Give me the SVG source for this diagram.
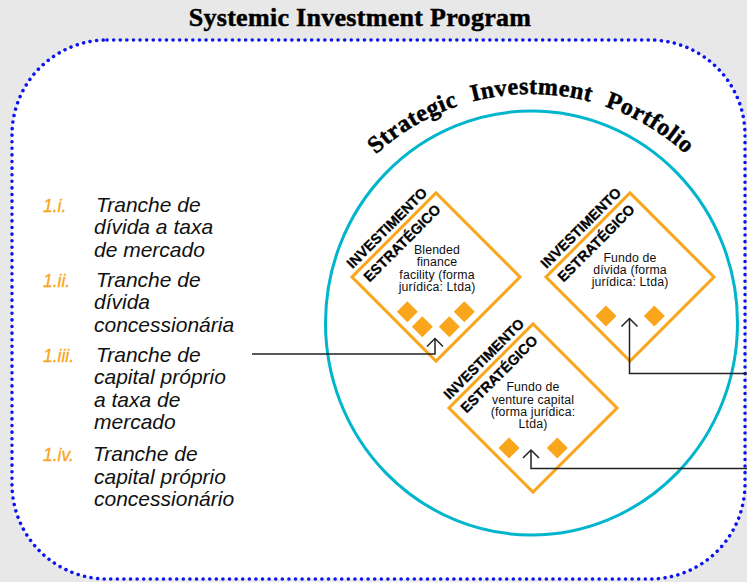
<svg xmlns="http://www.w3.org/2000/svg" xmlns:xlink="http://www.w3.org/1999/xlink" width="747" height="582" viewBox="0 0 747 582">
<style>
.title{font-family:"Liberation Serif","Times New Roman",serif;font-weight:bold;fill:#000;stroke:#000;stroke-width:0.5}
.item{font-family:"Liberation Sans",Arial,sans-serif;font-style:italic;font-size:21px;fill:#111}
.num{font-family:"Liberation Sans",Arial,sans-serif;font-style:italic;font-size:17.5px;fill:#f9a61c;stroke:#f9a61c;stroke-width:0.3}
.frame{fill:#fff;stroke:#f9a61c;stroke-width:3}
.chip{fill:#f9a61c}
.tag{font-family:"Liberation Sans",Arial,sans-serif;font-weight:bold;font-size:14.3px;text-anchor:middle;fill:#000;stroke:#000;stroke-width:0.3}
.body{font-family:"Liberation Sans",Arial,sans-serif;font-size:12.3px;letter-spacing:0.15px;text-anchor:middle;fill:#111}
.conn{fill:none;stroke:#222;stroke-width:1.5}
</style>
<defs>
<marker id="chev" viewBox="-10 -10 20 20" refX="0" refY="0" markerWidth="20" markerHeight="20" markerUnits="userSpaceOnUse" orient="auto">
<path d="M-8,-8 L0,0 L-8,8" fill="none" stroke="#222" stroke-width="1.5"/>
</marker>
<path id="chipShape" d="M0,-10.5 L10.5,0 L0,10.5 L-10.5,0Z"/>
<path id="arc" d="M332.7,208.5 A229,229 0 0 1 729.3,208.5"/>
</defs>
<rect x="0" y="0" width="747" height="582" fill="#e8e8e8"/>
<text class="title" x="360" y="26" font-size="26" letter-spacing="0.3" text-anchor="middle">Systemic Investment Program</text>
<rect x="12" y="40" width="733" height="539" rx="95" ry="95" fill="#fff" stroke="#0a14f0" stroke-width="3.5" stroke-linecap="round" stroke-dasharray="0.1 6.5"/>
<ellipse cx="531.5" cy="323" rx="206" ry="212" fill="none" stroke="#00b5cc" stroke-width="3"/>
<text class="title" font-size="24" letter-spacing="0.5" word-spacing="8"><textPath xlink:href="#arc" startOffset="50%" text-anchor="middle">Strategic Investment Portfolio</textPath></text>

<g id="list">
<text class="num" x="43" y="212.3">1.i.</text>
<text class="item" x="96" y="212.3">Tranche de</text>
<text class="item" x="94" y="234.3">dívida a taxa</text>
<text class="item" x="94" y="256.5">de mercado</text>
<text class="num" x="43" y="286.7">1.ii.</text>
<text class="item" x="96" y="286.7">Tranche de</text>
<text class="item" x="94" y="309">dívida</text>
<text class="item" x="94" y="331.5">concessionária</text>
<text class="num" x="43" y="362.3">1.iii.</text>
<text class="item" x="96" y="362.3">Tranche de</text>
<text class="item" x="94" y="384.3">capital próprio</text>
<text class="item" x="94" y="406.7">a taxa de</text>
<text class="item" x="94" y="429.2">mercado</text>
<text class="num" x="43" y="460.7">1.iv.</text>
<text class="item" x="93" y="460.7">Tranche de</text>
<text class="item" x="94" y="483.5">capital próprio</text>
<text class="item" x="94" y="505.5">concessionário</text>
</g>

<g id="node-blended" transform="translate(436,277)">
<g transform="rotate(-45)">
<rect class="frame" x="-59.4" y="-59.4" width="118.8" height="118.8"/>
<text class="tag" x="0" y="-64.5">INVESTIMENTO</text>
<text class="tag" x="0" y="-43">ESTRATÉGICO</text>
</g>
<text class="body" x="1" y="-23">Blended</text>
<text class="body" x="1" y="-10.7">finance</text>
<text class="body" x="1" y="1.6">facility (forma</text>
<text class="body" x="1" y="13.9">jurídica: Ltda)</text>
<use xlink:href="#chipShape" class="chip" x="-28.7" y="34.7"/>
<use xlink:href="#chipShape" class="chip" x="-13.7" y="49.7"/>
<use xlink:href="#chipShape" class="chip" x="13.3" y="49.7"/>
<use xlink:href="#chipShape" class="chip" x="28.3" y="34.7"/>
</g>

<g id="node-divida" transform="translate(630,277)">
<g transform="rotate(-45)">
<rect class="frame" x="-59.4" y="-59.4" width="118.8" height="118.8"/>
<text class="tag" x="0" y="-64.5">INVESTIMENTO</text>
<text class="tag" x="0" y="-43">ESTRATÉGICO</text>
</g>
<text class="body" x="0" y="-15.5">Fundo de</text>
<text class="body" x="0" y="-3.5">dívida (forma</text>
<text class="body" x="0" y="8.5">jurídica: Ltda)</text>
<use xlink:href="#chipShape" class="chip" x="-24" y="39"/>
<use xlink:href="#chipShape" class="chip" x="24.3" y="39"/>
</g>

<g id="node-venture" transform="translate(533,408)">
<g transform="rotate(-45)">
<rect class="frame" x="-59.4" y="-59.4" width="118.8" height="118.8"/>
<text class="tag" x="0" y="-64.5">INVESTIMENTO</text>
<text class="tag" x="0" y="-43">ESTRATÉGICO</text>
</g>
<text class="body" x="0" y="-16.8">Fundo de</text>
<text class="body" x="0" y="-4.5">venture capital</text>
<text class="body" x="0" y="7.8">(forma jurídica:</text>
<text class="body" x="0" y="20.1">Ltda)</text>
<use xlink:href="#chipShape" class="chip" x="-24" y="40"/>
<use xlink:href="#chipShape" class="chip" x="24.3" y="40"/>
</g>

<g id="connectors">
<path class="conn" d="M252,354 H435 V338.5" marker-end="url(#chev)"/>
<path class="conn" d="M747,373.5 H629.5 V318.5" marker-end="url(#chev)"/>
<path class="conn" d="M747,468.5 H531 V450" marker-end="url(#chev)"/>
</g>
</svg>
